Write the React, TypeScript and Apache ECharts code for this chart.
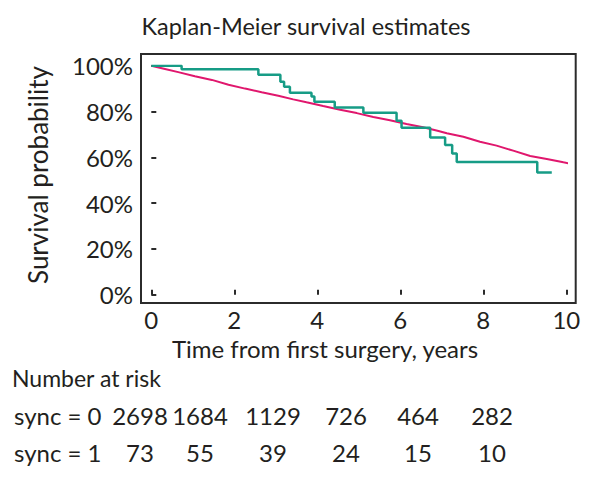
import React, { useEffect, useRef } from "react";
import * as echarts from "echarts";

const titleText = "Kaplan-Meier survival estimates";
const yAxisName = "Survival probability";
const xAxisName = "Time from first surgery, years";

// sync = 0 survival estimates (time in years, survival %)
const sync0Times = [0, 0.33, 0.65, 1.05, 1.46, 1.86, 2.26, 2.66, 3.06, 3.42, 3.74, 4.14, 4.55, 4.95, 5.35, 5.75, 6.15, 6.55, 6.92, 7.12, 7.52, 7.92, 8.32, 8.72, 9.13, 9.53, 9.93, 10.05];
const sync0Surv = [100, 98.6, 97.2, 95.4, 93.8, 91.7, 90.0, 88.4, 86.9, 85.3, 84.0, 82.4, 80.8, 79.3, 77.6, 76.2, 74.5, 73.1, 71.5, 70.5, 69.0, 66.8, 65.1, 62.9, 60.6, 59.3, 57.8, 57.4];

// sync = 1 survival estimates (step function)
const sync1Times = [0, 0.73, 2.58, 3.11, 3.2, 3.34, 3.86, 3.93, 4.42, 5.11, 5.91, 6.03, 6.72, 7.08, 7.25, 7.36, 9.3, 9.65];
const sync1Surv = [100, 98.4, 96.1, 93.0, 90.8, 88.2, 86.5, 84.3, 81.7, 79.5, 76.0, 72.9, 68.6, 65.4, 61.7, 57.9, 53.4, 53.4];

const riskTitle = "Number at risk";
const riskLabels = ["sync = 0", "sync = 1"];
const riskSync0 = [2698, 1684, 1129, 726, 464, 282];
const riskSync1 = [73, 55, 39, 24, 15, 10];

const FONT = "Lato, 'Noto Sans', sans-serif";
const TXT = "#231f20";

export default function App() {
  const ref = useRef<HTMLDivElement>(null);
  useEffect(() => {
    document.body.style.margin = "0";
    if (!ref.current) return;
    const chart = echarts.init(ref.current, null, { renderer: "svg" });

    const colX = [140, 200, 273, 346, 418, 492];
    const rowY = [415, 452];
    const txt = (text: string, x: number, y: number, size: number, align: string, extra: any = {}) => ({
      type: "text",
      x,
      y,
      ...extra,
      style: { text, fontSize: size, lineHeight: size, fontFamily: FONT, fill: TXT, align, verticalAlign: "middle" },
    });
    const graphics: any[] = [
      {
        type: "rect",
        z: 100,
        shape: { x: 141, y: 54, width: 434.7, height: 249 },
        style: { fill: "none", stroke: "#2b2b2b", lineWidth: 2 },
      },
      txt(titleText, 306, 26, 23.5, "center"),
      txt(yAxisName, 38, 175, 26, "center", { rotation: Math.PI / 2 }),
      txt(xAxisName, 325, 348, 24, "center"),
      txt(riskTitle, 12, 378, 23, "left"),
    ];
    riskLabels.forEach((lab, r) => {
      graphics.push(txt(lab, 14, rowY[r], 24, "left"));
      const vals = r === 0 ? riskSync0 : riskSync1;
      vals.forEach((v, i) => {
        graphics.push(txt(String(v), colX[i], rowY[r], 24, "center"));
      });
    });

    chart.setOption({
      animation: false,
      grid: { left: 151.3, right: 33.7, top: 65.7, bottom: 184.3, containLabel: false },
      xAxis: {
        type: "value",
        min: 0,
        max: 10,
        interval: 2,
        offset: 8.3,
        axisLine: { show: false },
        axisTick: { show: true, inside: true, length: 5, lineStyle: { color: "#2b2b2b", width: 2 } },
        axisLabel: { fontSize: 24, lineHeight: 20, fontFamily: FONT, color: TXT, margin: 6 },
        splitLine: { show: false },
      },
      yAxis: {
        type: "value",
        min: 0,
        max: 100,
        interval: 20,
        offset: 10.3,
        axisLine: { show: false },
        axisTick: { show: true, inside: true, length: 5, lineStyle: { color: "#2b2b2b", width: 2 } },
        axisLabel: { fontSize: 24, fontFamily: FONT, color: TXT, margin: 8, formatter: "{value}%" },
        splitLine: { show: false },
      },
      series: [
        {
          type: "line",
          name: "sync = 0",
          data: sync0Times.map((t, i) => [t, sync0Surv[i]]),
          showSymbol: false,
          lineStyle: { color: "#e0176d", width: 2 },
          itemStyle: { color: "#e0176d" },
          z: 2,
        },
        {
          type: "line",
          name: "sync = 1",
          step: "end",
          data: sync1Times.map((t, i) => [t, sync1Surv[i]]),
          showSymbol: false,
          lineStyle: { color: "#179c86", width: 2.5 },
          itemStyle: { color: "#179c86" },
          z: 3,
        },
      ],
      graphic: graphics,
    });
    return () => chart.dispose();
  }, []);
  return <div ref={ref} style={{ width: 600, height: 479 }} />;
}
